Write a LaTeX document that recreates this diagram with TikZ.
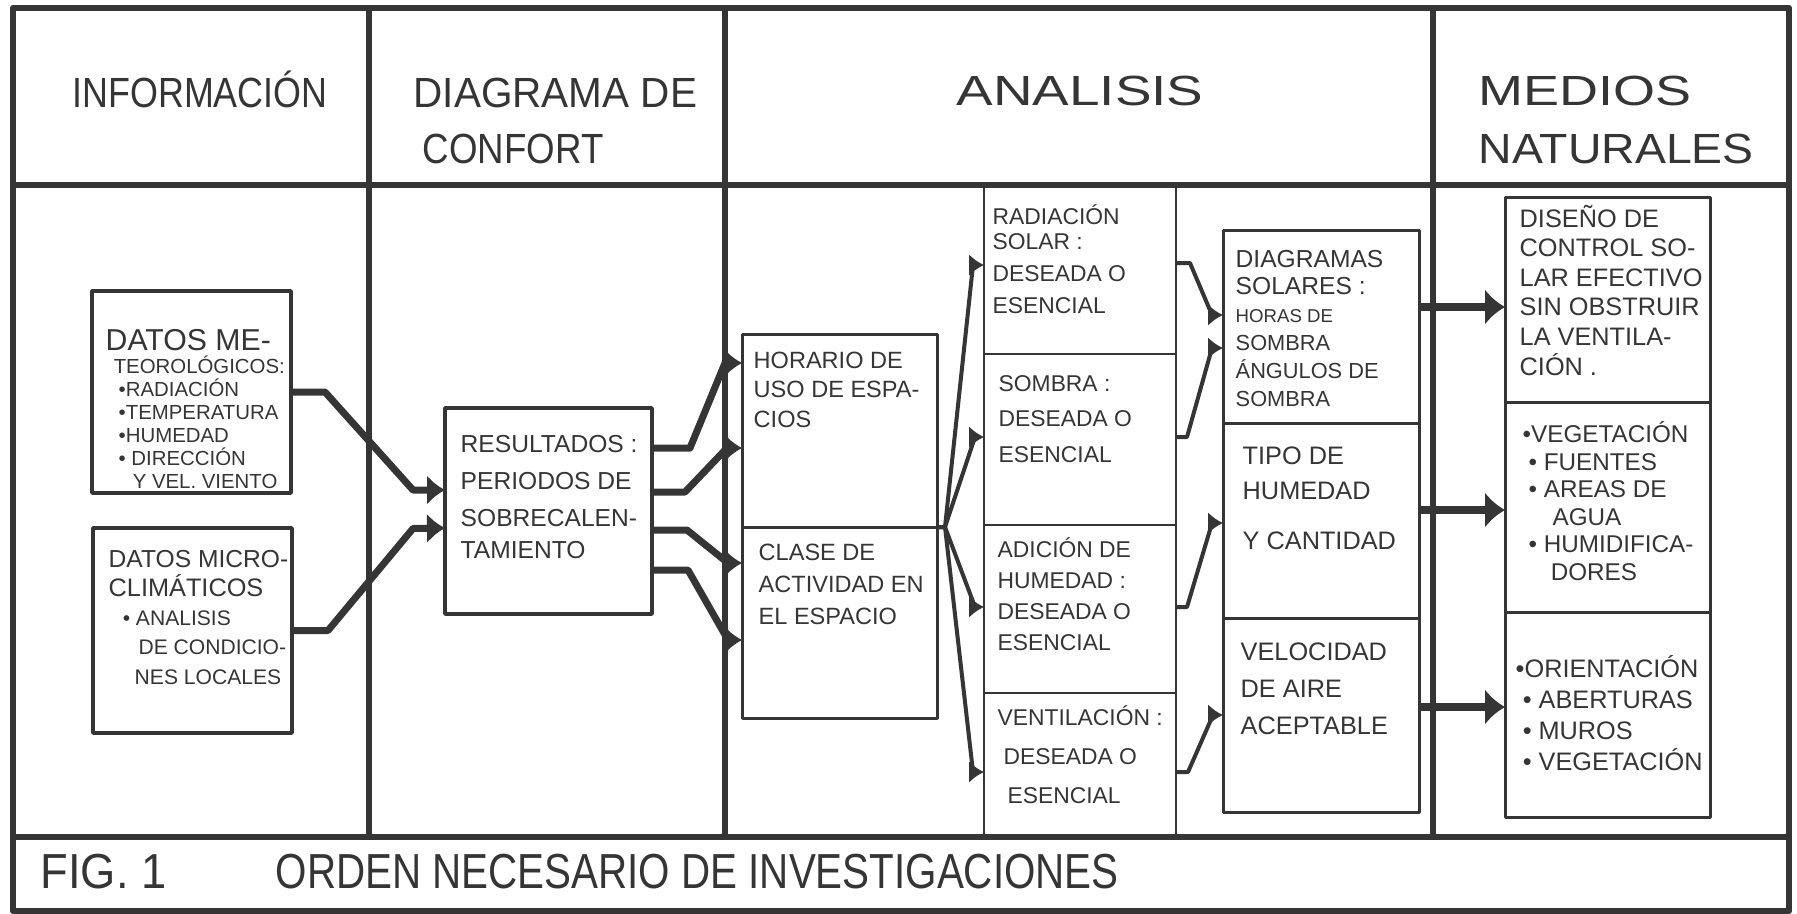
\documentclass[tikz,border=0pt]{standalone}
\usepackage{fontspec}
\setmainfont{Liberation Sans}
\usepackage{graphicx}
\usetikzlibrary{arrows.meta}
\definecolor{ink}{HTML}{353535}

\begin{document}
\begin{tikzpicture}[x=0.1mm,y=-0.1mm,ink,line join=round]
	% `cell' is used for the boxes, `col' for the thin analysis columns.
	% `flow' arrows join the boxes from one column to the next.
	% Text blocks are placed by the baseline of their last line.
	\tikzstyle{cell} = [draw,line width=0.35mm,inner sep=0pt,outer sep=0pt]
	\tikzstyle{col} = [draw,line width=0.25mm,inner sep=0pt,outer sep=0pt,minimum width=19.2mm]
	\tikzstyle{txt} = [anchor=base west,inner sep=0pt,align=left]
	\tikzstyle{head} = [anchor=base,inner sep=0pt,font=\fontsize{12}{14}\selectfont]
	\tikzstyle{flow} = [line width=0.7mm,-{Latex[length=1.8mm,width=3mm]}]
	\tikzstyle{thinflow} = [line width=0.4mm,-{Latex[length=1.5mm,width=2.2mm]}]
	\tikzstyle{bigflow} = [line width=0.8mm,-{Latex[length=2mm,width=3.6mm]}]
	\useasboundingbox (0,0) rectangle (1797,913);
	%
	% Frame and columns.
	\draw[line width=0.6mm] (13,8) rectangle (1789,911);
	\draw[line width=0.6mm] (13,185) -- (1789,185);
	\draw[line width=0.6mm] (13,837) -- (1789,837);
	\foreach \x in {369,725,1433}
		\draw[line width=0.6mm] (\x,8) -- (\x,837);
	%
	% Headings.
	\node[head] (info) at (200,107) {\scalebox{0.85}[1]{INFORMACIÓN}};
	\node[head,anchor=base west] (diag) at (413,107) {\scalebox{0.96}[1]{DIAGRAMA DE}};
	\node[head,anchor=base west] (conf) at (422,163) {\scalebox{0.87}[1]{CONFORT}};
	\node[head] (anal) at (1080,105) {\scalebox{1.3}[1]{ANALISIS}};
	\node[head,anchor=base west] (medi) at (1478,105) {\scalebox{1.28}[1]{MEDIOS}};
	\node[head,anchor=base west] (natu) at (1478,163) {\scalebox{1.1}[1]{NATURALES}};
	% Caption.
	\node[head,anchor=base west,font=\fontsize{14}{16}\selectfont] (fig) at (40,888) {\scalebox{0.92}[1]{FIG. 1}};
	\node[head,anchor=base west,font=\fontsize{14}{16}\selectfont] (titl) at (275,888) {\scalebox{0.82}[1]{ORDEN NECESARIO DE INVESTIGACIONES}};
	%
	% Information.
	\node[cell,minimum width=19.9mm,minimum height=20.2mm] (meteo) at (191.5,392) {};
	\node[cell,minimum width=19.9mm,minimum height=20.5mm] (micro) at (192.5,630.5) {};
	\node[txt,font=\fontsize{5.8}{6.5}\selectfont] (meteotx) at (105,488) {{\fontsize{8.6}{8}\selectfont DATOS ME-}\\
		\hspace*{2.3pt}TEOROLÓGICOS:\\
		\hspace*{3.7pt}•RADIACIÓN\\
		\hspace*{3.7pt}•TEMPERATURA\\
		\hspace*{3.7pt}•HUMEDAD\\
		\hspace*{3.7pt}• DIRECCIÓN\\
		\hspace*{7.7pt}Y VEL. VIENTO};
	\node[txt,font=\fontsize{6}{8.3}\selectfont] (microtx) at (108,684) {{\fontsize{7}{8}\selectfont DATOS MICRO-}\\
		{\fontsize{7.2}{8}\selectfont CLIMÁTICOS}\\
		\hspace*{4pt}• ANALISIS\\
		\hspace*{8.5pt}DE CONDICIO-\\
		\hspace*{7.4pt}NES LOCALES};
	%
	% Comfort diagram.
	\node[cell,minimum width=20.7mm,minimum height=20.6mm] (resul) at (548.5,511) {};
	\node[txt,font=\fontsize{7}{10.5}\selectfont] (resultx) at (460,558) {RESULTADOS :\\PERIODOS DE\\SOBRECALEN-\\[-1.5pt]TAMIENTO};
	%
	% Analysis.
	\node[cell,line width=0.3mm,minimum width=19.5mm,minimum height=19.3mm] (hor) at (839.5,430.5) {};
	\node[cell,line width=0.3mm,minimum width=19.5mm,minimum height=19.1mm,anchor=north] (cla) at (hor.south) {};
	\node[txt,font=\fontsize{6.7}{8.3}\selectfont] (hortx) at (753,427) {HORARIO DE\\USO DE ESPA-\\CIOS};
	\node[txt,font=\fontsize{6.7}{9.1}\selectfont] (clatx) at (758,624) {CLASE DE\\ACTIVIDAD EN\\EL ESPACIO};
	\node[col,minimum height=16.8mm] (rad) at (1080,270) {};
	\node[col,minimum height=17.1mm,anchor=north] (som) at (rad.south) {};
	\node[col,minimum height=16.8mm,anchor=north] (adi) at (som.south) {};
	\node[col,minimum height=14.4mm,anchor=north] (ven) at (adi.south) {};
	\node[txt,font=\fontsize{6.5}{9.1}\selectfont] (radtx) at (992,313) {RADIACIÓN\\[-2pt]SOLAR :\\DESEADA O\\ESENCIAL};
	\node[txt,font=\fontsize{6.5}{10}\selectfont] (somtx) at (998,462) {SOMBRA :\\DESEADA O\\ESENCIAL};
	\node[txt,font=\fontsize{6.5}{8.8}\selectfont] (aditx) at (997,650) {ADICIÓN DE\\HUMEDAD :\\DESEADA O\\ESENCIAL};
	\node[txt,font=\fontsize{6.5}{11.1}\selectfont] (ventx) at (997,803) {VENTILACIÓN :\\\hspace*{1.7pt}DESEADA O\\\hspace*{2.8pt}ESENCIAL};
	\node[col,line width=0.3mm,minimum width=19.6mm,minimum height=19.3mm] (sol) at (1321,326.5) {};
	\node[col,line width=0.3mm,minimum width=19.6mm,minimum height=19.5mm,anchor=north] (hum) at (sol.south) {};
	\node[col,line width=0.3mm,minimum width=19.6mm,minimum height=19.4mm,anchor=north] (vel) at (hum.south) {};
	\node[txt,font=\fontsize{6.2}{7.9}\selectfont] (soltx) at (1235,406) {{\fontsize{7}{8}\selectfont DIAGRAMAS}\\
		{\fontsize{7}{8}\selectfont SOLARES :}\\
		{\fontsize{5.3}{6}\selectfont HORAS DE}\\
		SOMBRA\\
		ÁNGULOS DE\\
		SOMBRA};
	\node[txt,font=\fontsize{7.2}{10}\selectfont] (humtx) at (1242,549) {TIPO DE\\HUMEDAD\\[4pt]Y CANTIDAD};
	\node[txt,font=\fontsize{7.2}{10.5}\selectfont] (veltx) at (1240,734) {VELOCIDAD\\DE AIRE\\ACEPTABLE};
	%
	% Natural means.
	\node[cell,line width=0.3mm,minimum width=20.5mm,minimum height=20.5mm] (ctl) at (1607.5,299.5) {};
	\node[cell,line width=0.3mm,minimum width=20.5mm,minimum height=21mm,anchor=north] (veg) at (ctl.south) {};
	\node[cell,line width=0.3mm,minimum width=20.5mm,minimum height=20.5mm,anchor=north] (ori) at (veg.south) {};
	\node[txt,font=\fontsize{7.2}{8.4}\selectfont] (ctltx) at (1519,375) {DISEÑO DE\\CONTROL SO-\\LAR EFECTIVO\\SIN OBSTRUIR\\LA VENTILA-\\CIÓN .};
	\node[txt,font=\fontsize{6.9}{7.8}\selectfont] (vegtx) at (1522,580) {•VEGETACIÓN\\
		\hspace*{1.7pt}• FUENTES\\
		\hspace*{1.7pt}• AREAS DE\\
		\hspace*{8.5pt}AGUA\\
		\hspace*{1.7pt}• HUMIDIFICA-\\
		\hspace*{8pt}DORES};
	\node[txt,font=\fontsize{7.2}{8.8}\selectfont] (oritx) at (1515,770) {•ORIENTACIÓN\\
		\hspace*{2pt}• ABERTURAS\\
		\hspace*{2pt}• MUROS\\
		\hspace*{2pt}• VEGETACIÓN};
	%
	% Arrows: information to comfort diagram.
	\draw[flow] (meteo.east) -- ++(34,0) -- ++(88,98) -- (resul.west |- 0,490);
	\draw[flow] (micro.east) -- ++(36,0) -- ++(85,-102) -- (resul.west |- 0,528);
	% comfort diagram to uses.
	\draw[flow] (resul.east |- 0,448) -- ++(38,0) -- ++(35,-85) -- (hor.west |- 0,363);
	\draw[flow] (resul.east |- 0,492) -- ++(33,0) -- ++(42,-44) -- (hor.west |- 0,448);
	\draw[flow] (resul.east |- 0,530) -- ++(35,0) -- ++(41,33) -- (cla.west |- 0,563);
	\draw[flow] (resul.east |- 0,570) -- ++(36,0) -- ++(40,70) -- (cla.west |- 0,640);
	% fan to the requirements.
	\draw[thinflow] (cla.north east) -- ++(8,0) -- ++(28,-262) -- (rad.west |- 0,265);
	\draw[thinflow] (cla.north east) -- ++(8,0) -- ++(30,-90) -- (som.west |- 0,437);
	\draw[thinflow] (cla.north east) -- ++(8,0) -- ++(30,80) -- (adi.west |- 0,607);
	\draw[thinflow] (cla.north east) -- ++(8,0) -- ++(28,245) -- (ven.west |- 0,772);
	% requirements to tools.
	\draw[thinflow] (rad.east |- 0,263) -- ++(14,0) -- ++(22,52) -- (sol.west |- 0,315);
	\draw[thinflow] (som.east |- 0,437) -- ++(11,0) -- ++(25,-89) -- (sol.west |- 0,348);
	\draw[thinflow] (adi.east |- 0,607) -- ++(11,0) -- ++(25,-84) -- (hum.west |- 0,523);
	\draw[thinflow] (ven.east |- 0,772) -- ++(12,0) -- ++(25,-57) -- (vel.west |- 0,715);
	% tools to natural means.
	\draw[bigflow] (sol.east |- 0,307) -- (ctl.west |- 0,307);
	\draw[bigflow] (hum.east |- 0,510) -- (veg.west |- 0,510);
	\draw[bigflow] (vel.east |- 0,707) -- (ori.west |- 0,707);
\end{tikzpicture}
\end{document}
